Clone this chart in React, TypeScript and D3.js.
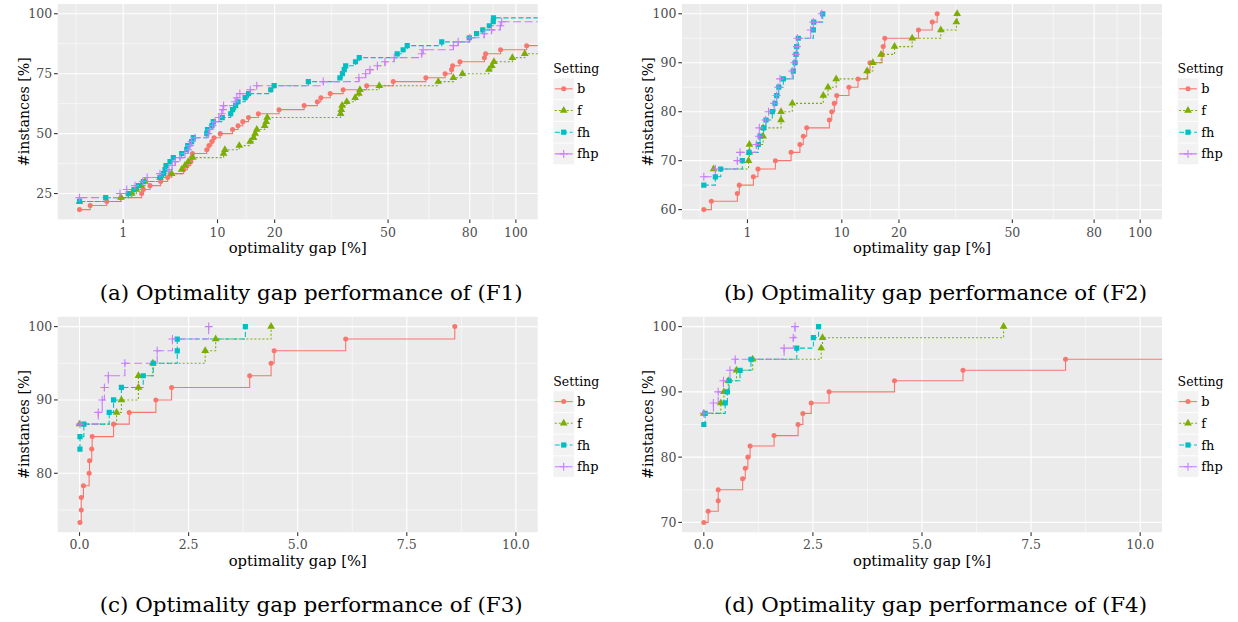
import * as d3 from "d3";
import { useEffect, useRef } from "react";

type Pt = [number, number];

// settings legend
const settings = ["b", "f", "fh", "fhp"];
const colors = ["#F8766D", "#7CAE00", "#00BFC4", "#C77CFF"];
const dashes = ["none", "2,2", "5,2.5", "8,3.5"];
const shapes = ["circle", "triangle", "square", "plus"];

const captions = [
  "(a) Optimality gap performance of (F1)",
  "(b) Optimality gap performance of (F2)",
  "(c) Optimality gap performance of (F3)",
  "(d) Optimality gap performance of (F4)",
];

// (F1): [gap %, instances %]
const F1_b: Pt[] = [
  [0, 18.3], [0.06, 20], [0.39, 21.7], [0.9, 23.3], [2.03, 25], [2.14, 26.7], [2.61, 28.3],
  [3.46, 30], [4.08, 31.7], [4.3, 33.3], [5.7, 35], [6.1, 36.7], [6.5, 38.3], [6.6, 40],
  [6.7, 41.7], [8.5, 43.3], [8.8, 45], [9.2, 46.7], [9.5, 48.3], [10.4, 50], [12.3, 51.7],
  [13.2, 53.3], [14, 55], [15, 56.7], [16.8, 58.3], [20.9, 60], [26.5, 61.7], [29.7, 63.3],
  [30.6, 65], [33, 66.7], [36.5, 68.3], [43.3, 70], [51.7, 71.7], [63, 73.3], [70.2, 75],
  [72.7, 76.7], [73.1, 78.3], [76, 80], [86.1, 81.7], [86.6, 83.3], [93.1, 85], [105, 86.7],
  [120, 88.3],
];
const F1_f: Pt[] = [
  [0, 21.7], [0.9, 23.3], [1.43, 25], [1.7, 26.7], [2, 28.3], [2.25, 30], [3.4, 31.7],
  [4.46, 33.3], [5.48, 35], [5.84, 36.7], [6.2, 38.3], [6.73, 40], [10.9, 41.7], [11.1, 43.3],
  [13.4, 45], [15.3, 46.7], [15.9, 48.3], [16.2, 50], [16.5, 51.7], [18, 53.3], [18.3, 55],
  [18.5, 56.7], [35.8, 58.3], [36, 60], [36.2, 61.7], [37.5, 63.3], [39.9, 65], [41, 66.7],
  [41.3, 68.3], [47.2, 70], [67.6, 71.7], [73.4, 73.3], [77, 75], [88, 76.7], [89.3, 78.3],
  [90.2, 80], [98.4, 81.7], [104.1, 83.3], [112, 85],
];
const F1_fh: Pt[] = [
  [0, 21.7], [0.36, 23.3], [1.25, 25], [1.56, 26.7], [1.82, 28.3], [2.14, 30], [3.4, 31.7],
  [3.7, 33.3], [3.84, 35], [3.93, 36.7], [4.3, 38.3], [4.62, 40], [5.48, 41.7], [6.03, 43.3],
  [6.15, 45], [6.6, 46.7], [6.8, 48.3], [8.5, 50], [8.6, 51.7], [9.2, 53.3], [9.4, 55],
  [10.7, 56.7], [12, 58.3], [12.3, 60], [12.8, 61.7], [13.2, 63.3], [14.4, 65], [15, 66.7],
  [19.2, 68.3], [19.9, 70], [27.5, 71.7], [35.6, 73.3], [36.3, 75], [36.8, 76.7], [37.2, 78.3],
  [40, 80], [41.1, 81.7], [53, 83.3], [55, 85], [56.4, 86.7], [68.9, 88.3], [79.8, 90],
  [82.8, 91.7], [85.4, 93.3], [88.2, 95], [89.9, 96.7], [90, 98.3], [120, 100],
];
const F1_fhp: Pt[] = [
  [0, 23.3], [0.86, 25], [1.17, 26.7], [1.62, 28.3], [2.1, 30], [2.4, 31.7], [3.4, 33.3],
  [4.2, 35], [4.5, 36.7], [4.8, 38.3], [5.3, 40], [5.84, 41.7], [6.2, 43.3], [6.4, 45],
  [6.6, 46.7], [7, 48.3], [8.7, 50], [8.9, 51.7], [9.3, 53.3], [9.6, 55], [10.2, 56.7],
  [10.6, 58.3], [10.8, 60], [10.9, 61.7], [12.7, 63.3], [13, 65], [13.5, 66.7], [15.3, 68.3],
  [16.5, 70], [31.2, 71.7], [41, 73.3], [43, 75], [44.3, 76.7], [46.6, 78.3], [49, 80],
  [52, 81.7], [61.5, 83.3], [62, 85], [73.4, 86.7], [75.3, 88.3], [80, 90], [86, 91.7],
  [89.2, 93.3], [93, 95], [93.6, 96.7], [125, 98.3],
];

// (F2)
const F2_b: Pt[] = [
  [0, 60], [0.03, 61.7], [0.59, 63.3], [0.66, 65], [1.29, 66.7], [1.54, 68.3], [2.69, 70],
  [4, 71.7], [4.85, 73.3], [5.2, 75], [5.56, 76.7], [8.28, 78.3], [8.59, 80], [8.94, 81.7],
  [9.28, 83.3], [11.06, 85], [12.49, 86.7], [14.1, 88.3], [14.5, 90], [16.7, 91.7],
  [16.9, 93.3], [17.2, 95], [24.2, 96.7], [27.4, 98.3], [28.6, 100],
];
const F2_f: Pt[] = [
  [0.05, 68.3], [1.05, 70], [1.09, 71.7], [1.09, 73.3], [1.85, 75], [1.85, 76.7], [3.13, 78.3],
  [3.13, 80], [4.11, 81.7], [7.5, 83.3], [8.1, 85], [9.2, 86.7], [14, 88.3], [15, 90],
  [16.5, 91.7], [19.1, 93.3], [22.8, 95], [29.5, 96.7], [33.5, 98.3], [33.7, 100],
];
const F2_fh: Pt[] = [
  [0, 65], [0.07, 66.7], [0.15, 68.3], [0.78, 70], [1.07, 71.7], [1.56, 73.3], [1.66, 75],
  [1.88, 76.7], [2.03, 78.3], [2.46, 80], [2.66, 81.7], [2.79, 83.3], [2.95, 85], [3.32, 86.7],
  [4.2, 88.3], [4.37, 90], [4.46, 91.7], [4.53, 93.3], [4.69, 95], [6.3, 96.7], [6.34, 98.3],
  [7.42, 100],
];
const F2_fhp: Pt[] = [
  [0, 66.7], [0.07, 68.3], [0.59, 70], [0.69, 71.7], [1.45, 73.3], [1.6, 75], [1.62, 76.7],
  [2, 78.3], [2.2, 80], [2.6, 81.7], [2.78, 83.3], [2.9, 85], [3.05, 86.7], [4.1, 88.3],
  [4.3, 90], [4.45, 91.7], [4.55, 93.3], [4.6, 95], [6, 96.7], [6.3, 98.3], [7.3, 100],
];

// (F3)
const F3_b: Pt[] = [
  [0.01, 73.3], [0.04, 75], [0.04, 76.7], [0.09, 78.3], [0.22, 80], [0.23, 81.7], [0.28, 83.3],
  [0.29, 85], [0.78, 86.7], [1.14, 88.3], [1.75, 90], [2.11, 91.7], [3.9, 93.3], [4.39, 95],
  [4.46, 96.7], [6.1, 98.3], [8.6, 100],
];
const F3_f: Pt[] = [
  [0, 86.7], [0.85, 88.3], [0.96, 90], [1.35, 91.7], [1.35, 93.3], [1.68, 95], [2.88, 96.7],
  [3.12, 98.3], [4.39, 100],
];
const F3_fh: Pt[] = [
  [0.01, 83.3], [0.01, 85], [0.1, 86.7], [0.68, 88.3], [0.78, 90], [0.96, 91.7], [1.46, 93.3],
  [1.69, 95], [2.24, 96.7], [2.24, 98.3], [3.8, 100],
];
const F3_fhp: Pt[] = [
  [0.01, 86.7], [0.43, 88.3], [0.52, 90], [0.57, 91.7], [0.66, 93.3], [1.04, 95], [1.78, 96.7],
  [2.13, 98.3], [2.96, 100],
];

// (F4)
const F4_b: Pt[] = [
  [0, 70], [0.1, 71.7], [0.33, 73.3], [0.33, 75], [0.89, 76.7], [0.95, 78.3], [1.01, 80],
  [1.06, 81.7], [1.61, 83.3], [2.16, 85], [2.27, 86.7], [2.46, 88.3], [2.87, 90], [4.37, 91.7],
  [5.94, 93.3], [8.29, 95], [12, 96.7],
];
const F4_f: Pt[] = [
  [0, 86.7], [0.39, 88.3], [0.46, 90], [0.56, 91.7], [0.75, 93.3], [1.12, 95], [2.69, 96.7],
  [2.72, 98.3], [6.87, 100],
];
const F4_fh: Pt[] = [
  [0, 85], [0.03, 86.7], [0.49, 88.3], [0.54, 90], [0.58, 91.7], [0.83, 93.3], [1.08, 95],
  [2.13, 96.7], [2.51, 98.3], [2.63, 100],
];
const F4_fhp: Pt[] = [
  [0, 86.7], [0.22, 88.3], [0.33, 90], [0.45, 91.7], [0.6, 93.3], [0.72, 95], [1.84, 96.7],
  [2.05, 98.3], [2.09, 100],
];

const sqrtTicks = [1, 10, 20, 50, 80, 100];
const linTicks = [0, 2.5, 5, 7.5, 10];
const F1_yTicks = [25, 50, 75, 100];
const F2_yTicks = [60, 70, 80, 90, 100];
const F3_yTicks = [80, 90, 100];
const F4_yTicks = [70, 80, 90, 100];

const W = 480;
const H = 215.4;
const FONT = "'DejaVu Serif', 'Liberation Serif', serif";

const panels = [
  { series: [F1_b, F1_f, F1_fh, F1_fhp], sqrt: true, yTicks: F1_yTicks, left: 57.7, top: 4 },
  { series: [F2_b, F2_f, F2_fh, F2_fhp], sqrt: true, yTicks: F2_yTicks, left: 682, top: 4 },
  { series: [F3_b, F3_f, F3_fh, F3_fhp], sqrt: false, yTicks: F3_yTicks, left: 57.7, top: 316.8 },
  { series: [F4_b, F4_f, F4_fh, F4_fhp], sqrt: false, yTicks: F4_yTicks, left: 682, top: 316.8 },
];

const sgnSqrt = (v: number) => Math.sign(v) * Math.sqrt(Math.abs(v));
const sgnSq = (t: number) => Math.sign(t) * t * t;

// ggplot-style minor breaks: midpoints between majors (in transformed space)
function minorBreaks(majors: number[], fwd: (v: number) => number, inv: (v: number) => number, dom: number[]) {
  const t = majors.map(fwd);
  const n = t.length;
  const ext = [2 * t[0] - t[1], ...t, 2 * t[n - 1] - t[n - 2]];
  return d3
    .pairs(ext)
    .map(([a, b]) => inv((a + b) / 2))
    .filter((v) => v >= dom[0] && v <= dom[1]);
}

function markerPath(shape: string) {
  if (shape === "plus") return "M-4,0H4M0,-4V4";
  const type =
    shape === "circle" ? d3.symbolCircle : shape === "triangle" ? d3.symbolTriangle : d3.symbolSquare;
  const size = shape === "circle" ? 20 : shape === "triangle" ? 26 : 27;
  return d3.symbol().type(type).size(size)() ?? "";
}

function drawMarker(g: d3.Selection<SVGGElement, unknown, null, undefined>, i: number, cx: number, cy: number) {
  const p = g.append("path").attr("d", markerPath(shapes[i])).attr("transform", `translate(${cx},${cy})`);
  if (shapes[i] === "plus") p.attr("fill", "none").attr("stroke", colors[i]).attr("stroke-width", 1.1);
  else p.attr("fill", colors[i]);
}

function label(
  g: d3.Selection<SVGGElement, unknown, null, undefined>,
  txt: string,
  size: number,
  fit?: number,
) {
  const t = g.append("text").attr("font-family", FONT).attr("font-size", size).text(txt);
  if (fit) t.attr("textLength", fit).attr("lengthAdjust", "spacingAndGlyphs");
  return t;
}

function drawPanel(svg: d3.Selection<SVGSVGElement, unknown, null, undefined>, p: (typeof panels)[number], idx: number) {
  const g = svg.append("g").attr("transform", `translate(${p.left},${p.top})`);

  const x = p.sqrt
    ? d3.scaleSqrt().domain([-0.25, 110.25]).range([0, W])
    : d3.scaleLinear().domain([-0.5, 10.5]).range([0, W]);
  const xDom = x.domain();
  const xTicks = p.sqrt ? sqrtTicks : linTicks;
  const xMinor = p.sqrt
    ? minorBreaks(xTicks, sgnSqrt, sgnSq, xDom)
    : minorBreaks(xTicks, (v) => v, (v) => v, xDom);

  const ys = p.series.flat().map((d) => d[1]);
  const lo = d3.min(ys) as number;
  const hi = d3.max(ys) as number;
  const pad = (hi - lo) * 0.05;
  const y = d3.scaleLinear().domain([lo - pad, hi + pad]).range([H, 0]);
  const yMinor = minorBreaks(p.yTicks, (v) => v, (v) => v, y.domain());

  g.append("rect").attr("width", W).attr("height", H).attr("fill", "#EBEBEB");

  const grid = g.append("g").attr("stroke", "#FFFFFF").attr("fill", "none");
  grid.selectAll(".ymin").data(yMinor).join("line")
    .attr("x1", 0).attr("x2", W).attr("y1", (d) => y(d)).attr("y2", (d) => y(d)).attr("stroke-width", 0.55);
  grid.selectAll(".xmin").data(xMinor).join("line")
    .attr("y1", 0).attr("y2", H).attr("x1", (d) => x(d)).attr("x2", (d) => x(d)).attr("stroke-width", 0.55);
  grid.selectAll(".ymaj").data(p.yTicks).join("line")
    .attr("x1", 0).attr("x2", W).attr("y1", (d) => y(d)).attr("y2", (d) => y(d)).attr("stroke-width", 1.1);
  grid.selectAll(".xmaj").data(xTicks).join("line")
    .attr("y1", 0).attr("y2", H).attr("x1", (d) => x(d)).attr("x2", (d) => x(d)).attr("stroke-width", 1.1);

  const clipId = `clip-${idx}`;
  g.append("clipPath").attr("id", clipId).append("rect").attr("width", W).attr("height", H);
  const plot = g.append("g").attr("clip-path", `url(#${clipId})`);

  const line = d3
    .line<Pt>()
    .curve(d3.curveStepAfter)
    .x((d) => x(d[0]))
    .y((d) => y(d[1]));

  p.series.forEach((s, i) => {
    const data = [...s].sort((a, b) => a[0] - b[0] || a[1] - b[1]);
    plot.append("path")
      .attr("d", line(data) ?? "")
      .attr("fill", "none")
      .attr("stroke", colors[i])
      .attr("stroke-width", 1.1)
      .attr("stroke-dasharray", dashes[i]);
  });
  p.series.forEach((s, i) => {
    const mg = plot.append("g");
    s.forEach((d) => drawMarker(mg, i, x(d[0]), y(d[1])));
  });

  // axes
  const axis = g.append("g");
  p.yTicks.forEach((t) => {
    axis.append("line").attr("x1", -3.7).attr("x2", 0).attr("y1", y(t)).attr("y2", y(t))
      .attr("stroke", "#333333").attr("stroke-width", 1.1);
    label(axis, String(t), 12.5).attr("x", -5.6).attr("y", y(t) + 4.5)
      .attr("text-anchor", "end").attr("fill", "#4D4D4D");
  });
  xTicks.forEach((t) => {
    axis.append("line").attr("y1", H).attr("y2", H + 3.7).attr("x1", x(t)).attr("x2", x(t))
      .attr("stroke", "#333333").attr("stroke-width", 1.1);
    label(axis, p.sqrt ? String(t) : d3.format(".1f")(t), 12.5)
      .attr("x", x(t)).attr("y", H + 17.2).attr("text-anchor", "middle").attr("fill", "#4D4D4D");
  });
  label(axis, "optimality gap [%]", 15, 138)
    .attr("x", W / 2).attr("y", H + 33.7).attr("text-anchor", "middle");
  label(axis, "#instances [%]", 15, 109)
    .attr("transform", `translate(-28.7,${H / 2}) rotate(-90)`).attr("text-anchor", "middle");

  // caption
  label(g, captions[idx], 21, 423)
    .attr("x", 253.5).attr("y", H + 80.2).attr("text-anchor", "middle");

  // legend
  const lg = g.append("g").attr("transform", `translate(${W + 15.6},${H / 2})`);
  label(lg, "Setting", 13, 46).attr("x", 0).attr("y", -38.9);
  settings.forEach((s, i) => {
    const top = -33.3 + i * 21.7;
    const kg = lg.append("g");
    kg.append("rect").attr("x", 0).attr("y", top).attr("width", 20.8).attr("height", 20.8).attr("fill", "#F2F2F2");
    kg.append("line").attr("x1", 1.5).attr("x2", 19.3).attr("y1", top + 10.4).attr("y2", top + 10.4)
      .attr("stroke", colors[i]).attr("stroke-width", 1.1).attr("stroke-dasharray", dashes[i]);
    drawMarker(kg, i, 10.4, top + 10.4);
    label(lg, s, 13).attr("x", 23.7).attr("y", top + 15);
  });
}

export default function App() {
  const ref = useRef<SVGSVGElement>(null);

  useEffect(() => {
    if (!ref.current) return;
    const svg = d3.select(ref.current);
    svg.selectAll("*").remove();
    panels.forEach((p, i) => drawPanel(svg, p, i));
  }, []);

  return (
    <svg
      ref={ref}
      width={1238}
      height={622}
      style={{ position: "absolute", left: 0, top: 0, background: "#FFFFFF" }}
    />
  );
}
